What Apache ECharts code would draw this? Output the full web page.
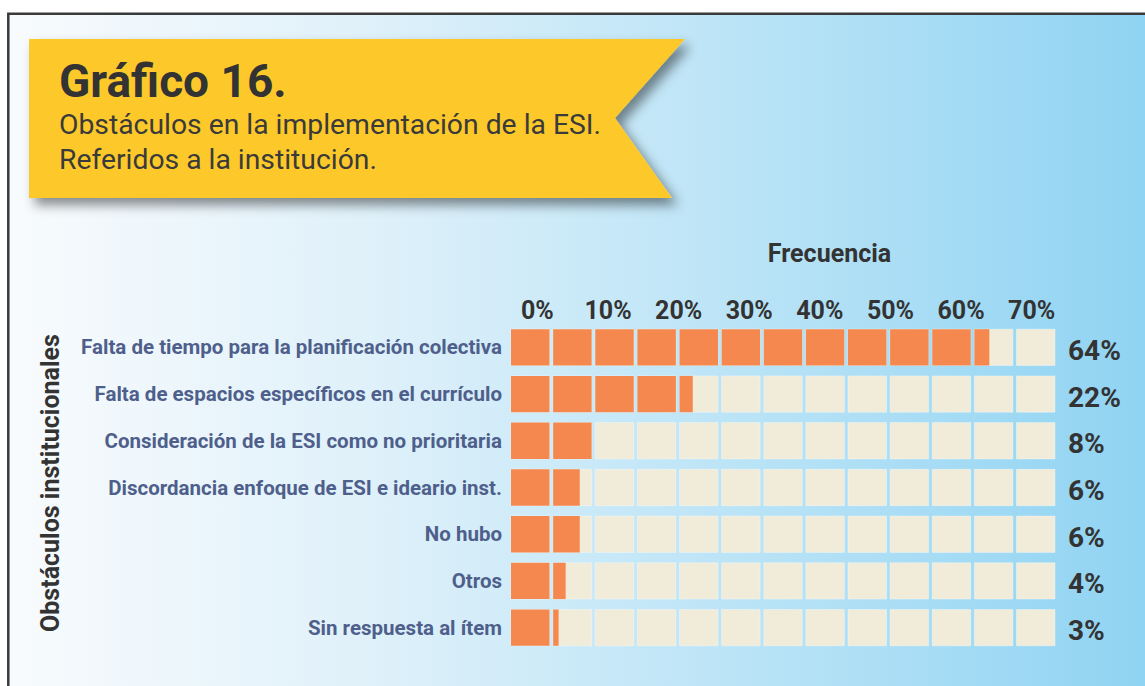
<!DOCTYPE html>
<html>
<head>
<meta charset="utf-8">
<script src="https://cdn.jsdelivr.net/npm/echarts@6/dist/echarts.min.js"></script>
<style>
html,body{margin:0;padding:0;background:#fff;}
#chart{width:1145px;height:686px;}
</style>
</head>
<body>
<div id="chart"></div>
<script>
// ---- Data ----
const categorias = [
  'Falta de tiempo para la planificación colectiva',
  'Falta de espacios específicos en el currículo',
  'Consideración de la ESI como no prioritaria',
  'Discordancia enfoque de ESI e ideario inst.',
  'No hubo',
  'Otros',
  'Sin respuesta al ítem'
];
const valores = [64, 22, 8, 6, 6, 4, 3];
const ticks = [0, 10, 20, 30, 40, 50, 60, 70];
const tituloTexto = 'Gráfico 16.';
const subtituloLineas = ['Obstáculos en la implementación de la ESI.', 'Referidos a la institución.'];
const ejeXNombre = 'Frecuencia';
const ejeYNombre = 'Obstáculos institucionales';

// ---- Layout constants ----
const X_MIN = -3.74, X_MAX = 73.3, N_CELDAS = 13;
const FONT = 'Roboto';

const chart = echarts.init(document.getElementById('chart'), null, {renderer: 'svg'});

function renderItem(params, api) {
  const cat = api.value(1);
  const v = api.value(0);
  const p0 = api.coord([X_MIN, cat]);
  const p1 = api.coord([X_MAX, cat]);
  const pv = api.coord([v, cat]);
  const band = api.size([0, 1])[1];
  const h = band * 0.778;
  const y = p0[1] - h / 2;
  const gap = 3.6;
  const pitch = (p1[0] - p0[0] + gap) / N_CELDAS;
  const w = pitch - gap;
  const children = [];
  for (let k = 0; k < N_CELDAS; k++) {
    const x = p0[0] + k * pitch;
    children.push({type: 'rect', shape: {x: x, y: y, width: w, height: h},
      style: {fill: '#f0ecd9', stroke: 'rgba(255,255,255,0.35)', lineWidth: 1}});
    const ow = Math.max(0, Math.min(w, pv[0] - x));
    if (ow > 0) {
      children.push({type: 'rect', shape: {x: x, y: y, width: ow, height: h},
        style: {fill: '#f5884f'}});
    }
  }
  children.push({type: 'text', style: {
    x: p1[0] + 13, y: p0[1] + 3, text: v + '%',
    fill: '#333333', fontFamily: FONT, fontWeight: 'bold', fontSize: 28,
    align: 'left', verticalAlign: 'middle'
  }});
  return {type: 'group', children: children};
}

const option = {
  animation: false,
  grid: {left: 511, right: 90, top: 324, height: 327, containLabel: false, outerBoundsMode: 'none'},
  xAxis: {
    type: 'value', position: 'top', min: X_MIN, max: X_MAX,
    axisLine: {show: false}, axisTick: {show: false}, splitLine: {show: false},
    axisLabel: {
      customValues: ticks, formatter: '{value}%', margin: 1,
      color: '#333333', fontFamily: FONT, fontWeight: 'bold', fontSize: 25
    }
  },
  yAxis: {
    type: 'category', inverse: true, data: categorias,
    axisLine: {show: false}, axisTick: {show: false}, splitLine: {show: false},
    axisLabel: {margin: 9, color: '#4f5f8b', fontFamily: FONT, fontWeight: 'bold', fontSize: 20.5}
  },
  series: [{
    type: 'custom',
    renderItem: renderItem,
    encode: {x: 0, y: 1},
    data: valores.map((v, i) => [v, categorias[i]]),
    z: 5
  }],
  graphic: [
    {type: 'rect', z: -100, silent: true,
      shape: {x: 8.3, y: 13.7, width: 1170, height: 700},
      style: {
        fill: new echarts.graphic.LinearGradient(0, 0, 1, 0, [
          {offset: 0, color: '#f8fbfd'},
          {offset: 0.3, color: '#e0f1fa'},
          {offset: 0.5, color: '#c9e9f8'},
          {offset: 0.75, color: '#acdef5'},
          {offset: 1, color: '#8cd2f2'}
        ]),
        stroke: '#3a3a3a', lineWidth: 2.5
      }},
    {type: 'polygon', z: 10, silent: true,
      shape: {points: [[29, 39], [685, 39], [615, 118], [672, 198], [29, 198]]},
      style: {fill: '#fdc92b', shadowBlur: 12, shadowOffsetX: 6, shadowOffsetY: 7, shadowColor: 'rgba(0,0,0,0.45)'}},
    {type: 'text', z: 11, silent: true,
      style: {x: 59, y: 81, text: tituloTexto, fill: '#333333', fontFamily: FONT, fontWeight: 'bold', fontSize: 46, align: 'left', verticalAlign: 'middle'}},
    {type: 'text', z: 11, silent: true,
      style: {x: 59, y: 124, text: subtituloLineas[0], fill: '#3a3a3a', fontFamily: FONT, fontSize: 28.3, align: 'left', verticalAlign: 'middle'}},
    {type: 'text', z: 11, silent: true,
      style: {x: 59, y: 159, text: subtituloLineas[1], fill: '#3a3a3a', fontFamily: FONT, fontSize: 28.3, align: 'left', verticalAlign: 'middle'}},
    {type: 'text', z: 11, silent: true,
      style: {x: 829.5, y: 253, text: ejeXNombre, fill: '#333333', fontFamily: FONT, fontWeight: 'bold', fontSize: 25, align: 'center', verticalAlign: 'middle'}},
    {type: 'text', z: 11, silent: true, x: 50, y: 483, rotation: Math.PI / 2,
      style: {x: 0, y: 0, text: ejeYNombre, fill: '#333333', fontFamily: FONT, fontWeight: 'bold', fontSize: 25, align: 'center', verticalAlign: 'middle'}}
  ]
};
chart.setOption(option);
</script>
</body>
</html>
